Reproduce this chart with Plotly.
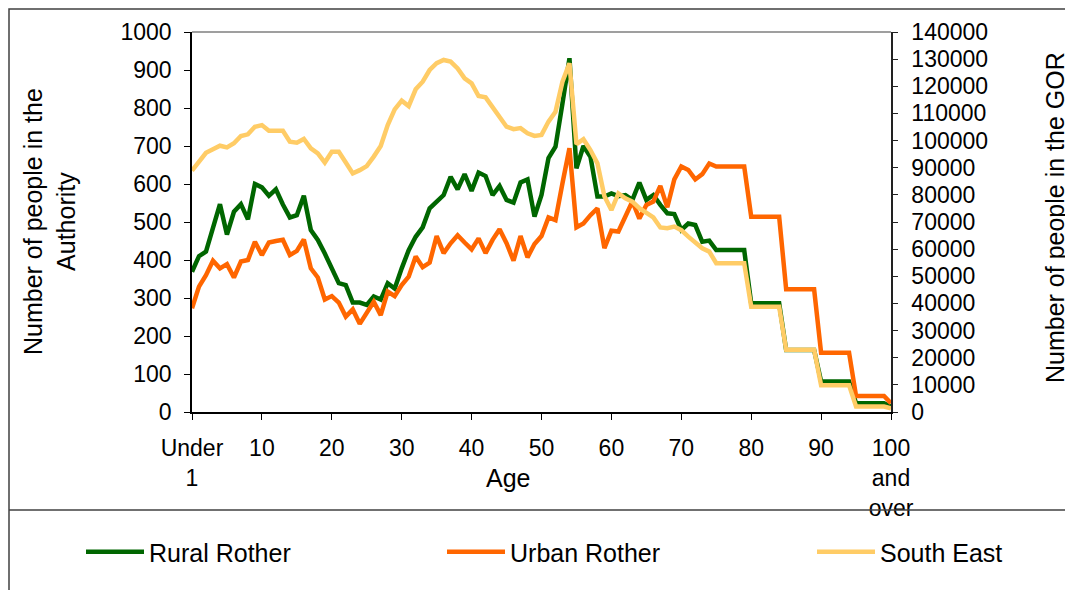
import plotly.graph_objects as go

ages = list(range(0, 101))
tick_vals = [0, 10, 20, 30, 40, 50, 60, 70, 80, 90, 100]
tick_text = ["Under<br>1", "10", "20", "30", "40", "50", "60", "70", "80", "90", "100<br>and<br>over"]

rural_rother = [
    369, 410, 422, 488, 547, 467, 527, 547, 507, 600,
    591, 569, 586, 546, 512, 518, 569, 479, 453, 417,
    375, 339, 334, 288, 288, 282, 304, 296, 339, 325,
    378, 426, 461, 486, 536, 554, 571, 619, 586, 626,
    582, 630, 621, 571, 595, 558, 551, 604, 612, 514,
    571, 668, 698, 812, 931, 641, 700, 672, 567, 567,
    575, 568, 571, 558, 604, 558, 571, 545, 523, 521,
    479, 496, 492, 448, 451, 426, 426, 426, 426, 426,
    286, 286, 286, 286, 286, 163, 163, 163, 163, 163,
    80, 80, 80, 80, 80, 23, 23, 23, 23, 23,
    14,
]

urban_rother = [
    273, 330, 360, 398, 378, 389, 354, 396, 400, 448,
    413, 446, 450, 453, 413, 424, 454, 378, 354, 296,
    305, 288, 251, 270, 232, 261, 290, 255, 317, 305,
    334, 356, 409, 381, 393, 463, 418, 444, 465, 446,
    428, 457, 418, 453, 481, 444, 398, 463, 407, 442,
    463, 512, 505, 602, 694, 486, 496, 518, 536, 431,
    477, 475, 514, 554, 509, 545, 554, 595, 539, 612,
    646, 637, 612, 626, 654, 646, 646, 646, 646, 646,
    514, 514, 514, 514, 514, 323, 323, 323, 323, 323,
    156, 156, 156, 156, 156, 42, 42, 42, 42, 42,
    23,
]

south_east = [
    88900, 92200, 95500, 96800, 98100, 97500, 99000, 101700, 102300, 105100,
    105700, 103600, 103500, 103600, 99600, 99200, 100600, 97100, 95300, 91900,
    95900, 95900, 91900, 87900, 89100, 90600, 94100, 98000, 105700, 111500,
    114700, 112700, 118900, 121700, 126000, 128500, 129700, 129100, 126600, 122900,
    121100, 116400, 115900, 112500, 108800, 105100, 104200, 104600, 102700, 101700,
    102100, 107000, 110600, 121700, 128500, 98700, 100500, 96500, 91600, 79500,
    74400, 80500, 78700, 77500, 75100, 73500, 71700, 68000, 67700, 68300,
    67000, 64600, 62400, 60300, 59100, 54800, 54800, 54800, 54800, 54800,
    38800, 38800, 38800, 38800, 38800, 22900, 22900, 22900, 22900, 22900,
    9900, 9900, 9900, 9900, 9900, 2000, 2000, 2000, 2000, 2000,
    1350,
]

FONT = "Liberation Sans, Arial, sans-serif"
OFF = 8  # default page body margin
W, H = 1073 - OFF, 590 - OFF
PLOT_L, PLOT_R, PLOT_T, PLOT_B = 192, 891, 32, 412  # target screen pixels
L, R, T, B = PLOT_L - OFF, 1073 - PLOT_R, PLOT_T - OFF, 590 - PLOT_B
PW, PH = PLOT_R - PLOT_L, PLOT_B - PLOT_T


def px_x(x):
    return (x - PLOT_L) / PW


def px_y(y):
    return (PLOT_B - y) / PH


ITEMW = 58


def legend_at(text_x):
    return dict(orientation="h", x=px_x(text_x - ITEMW - 10), xanchor="left",
                y=px_y(552), yanchor="middle", itemwidth=ITEMW,
                font=dict(size=25, family=FONT, color="black"),
                bgcolor="rgba(0,0,0,0)")


fig = go.Figure()
fig.add_trace(go.Scatter(x=ages, y=rural_rother, name="Rural Rother", mode="lines",
                         line=dict(color="#006600", width=4.5), yaxis="y", legend="legend"))
fig.add_trace(go.Scatter(x=ages, y=urban_rother, name="Urban Rother", mode="lines",
                         line=dict(color="#FF6600", width=4.5), yaxis="y", legend="legend2"))
fig.add_trace(go.Scatter(x=ages, y=south_east, name="South East", mode="lines",
                         line=dict(color="#FFCC66", width=4.5), yaxis="y2", legend="legend3"))

fig.update_layout(
    width=W, height=H,
    margin=dict(l=L, r=R, t=T, b=B, pad=0),
    paper_bgcolor="white", plot_bgcolor="white",
    font=dict(family=FONT, size=23, color="black"),
    showlegend=True,
    legend=legend_at(149),
    legend2=legend_at(510),
    legend3=legend_at(880),
    xaxis=dict(range=[0, 100], tickmode="array", tickvals=tick_vals, ticktext=tick_text,
               showgrid=False, zeroline=False, showline=True, linecolor="black", linewidth=1.5,
               ticks="outside", ticklen=6, tickcolor="black", tickwidth=1.2, automargin=False,
               tickangle=0, ticklabelstandoff=9),
    yaxis=dict(range=[0, 1000], dtick=100, tick0=0, showgrid=False, zeroline=False,
               showline=True, linecolor="black", linewidth=1.5, ticks="outside", ticklen=6,
               tickcolor="black", tickwidth=1.2, automargin=False, ticklabelstandoff=8),
    yaxis2=dict(range=[0, 140000], dtick=10000, tick0=0, overlaying="y", side="right",
                anchor="x", showgrid=False, zeroline=False, showline=True, linecolor="#222222",
                linewidth=1.5, ticks="outside", ticklen=5, tickcolor="#222222", tickwidth=1.2,
                tickformat="d", automargin=False, ticklabelstandoff=9),
    yaxis3=dict(range=[0, 140000], dtick=10000, tick0=0, overlaying="y", side="right",
                anchor="x", showgrid=False, zeroline=False, showline=False, ticks="inside",
                ticklen=5, tickcolor="#222222", tickwidth=1.2, showticklabels=False,
                automargin=False),
)

fig.update_layout(
    annotations=[
        dict(text="Number of people in the<br>Authority", x=px_x(49), y=px_y(222),
             xref="paper", yref="paper", textangle=-90, showarrow=False,
             font=dict(size=25, family=FONT, color="black"), xanchor="center", yanchor="middle"),
        dict(text="Number of people in the GOR", x=px_x(1055), y=px_y(218),
             xref="paper", yref="paper", textangle=-90, showarrow=False,
             font=dict(size=25, family=FONT, color="black"), xanchor="center", yanchor="middle"),
        dict(text="Age", x=px_x(508), y=px_y(478), xref="paper", yref="paper",
             showarrow=False, font=dict(size=25, family=FONT, color="black"),
             xanchor="center", yanchor="middle"),
    ],
    shapes=[
        dict(type="rect", xref="paper", yref="paper", x0=px_x(9), x1=px_x(1090),
             y0=px_y(9), y1=px_y(600), line=dict(color="#404040", width=1.5),
             fillcolor="rgba(0,0,0,0)", layer="above"),
        dict(type="line", xref="paper", yref="paper", x0=px_x(9), x1=px_x(1090),
             y0=px_y(510), y1=px_y(510), line=dict(color="#404040", width=1.5)),
        dict(type="line", xref="paper", yref="paper", x0=0, x1=1, y0=1, y1=1,
             line=dict(color="#404040", width=1.2)),
    ],
)

fig.write_html("out.html")
